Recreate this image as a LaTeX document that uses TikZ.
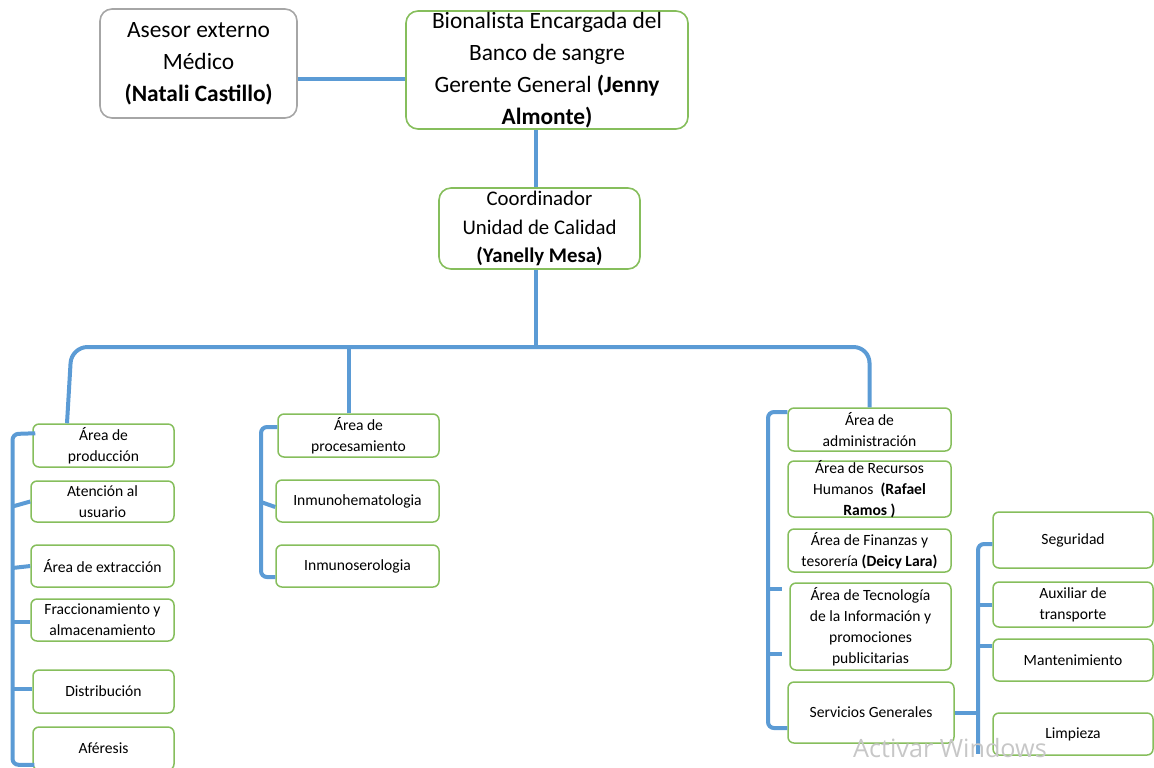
\documentclass[tikz,border=0pt]{standalone}
\usepackage{fontspec}
\setmainfont{Carlito}
\newfontfamily\wmfont{Open Sans}
\usetikzlibrary{calc}

\definecolor{busblue}{HTML}{5B9BD5}
\definecolor{boxgreen}{HTML}{86BE5C}
\definecolor{boxgray}{HTML}{A6A6A6}

\tikzset{
  bus/.style={draw=busblue, line width=2pt},
  bigbox/.style={draw=boxgreen, line width=0.8pt, rounded corners=6pt, fill=white,
    inner xsep=0pt, inner ysep=-4pt, align=center, font=\fontsize{11.7}{16}\selectfont},
  smallbox/.style={draw=boxgreen, line width=0.75pt, rounded corners=3pt, fill=white,
    inner xsep=0pt, inner ysep=-4pt, align=center, font=\fontsize{7.8}{10.5}\selectfont},
  wmark/.style={text=black!22, font=\wmfont\fontsize{12.6}{14}\selectfont, inner sep=0pt}
}

\begin{document}
\begin{tikzpicture}[x=0.5pt, y=-0.5pt]

  \useasboundingbox (0,0) rectangle (1154,767);

  % top boxes
  \node[bigbox, draw=boxgray, minimum width=98.5pt, minimum height=54.5pt] (asesor) at (198.5,63.5)
    {Asesor externo\\Médico\\\textbf{(Natali Castillo)}};
  \node[bigbox, minimum width=141pt, minimum height=59pt] (banco) at (547,70)
    {Bionalista Encargada del\\Banco de sangre\\Gerente General \textbf{(Jenny}\\\textbf{Almonte)}};
  \node[bigbox, font=\fontsize{10.4}{14.25}\selectfont, minimum width=100.5pt, minimum height=40.5pt] (coord) at (539.5,228.5)
    {Coordinador\\Unidad de Calidad\\\textbf{(Yanelly Mesa)}};

  % produccion
  \node[smallbox, minimum width=70.5pt, minimum height=21.5pt] (prod) at (103.5,445.5) {Área de\\producción};
  \node[smallbox, minimum width=71.5pt, minimum height=20.5pt] (atenc) at (102.5,501.5) {Atención al\\usuario};
  \node[smallbox, minimum width=71.5pt, minimum height=21pt] (extr) at (102.5,566) {Área de extracción};
  \node[smallbox, minimum width=71.5pt, minimum height=21pt] (fracc) at (102.5,620) {Fraccionamiento y\\almacenamiento};
  \node[smallbox, minimum width=70.5pt, minimum height=21.5pt] (distr) at (103.5,691.5) {Distribución};
  \node[smallbox, minimum width=70.5pt, minimum height=21.5pt] (afer) at (103.5,748.5) {Aféresis};

  % procesamiento
  \node[smallbox, minimum width=80.5pt, minimum height=21.5pt] (proc) at (358.5,435.5) {Área de\\procesamiento};
  \node[smallbox, minimum width=81.5pt, minimum height=21pt] (inmh) at (357.5,501) {Inmunohematologia};
  \node[smallbox, minimum width=81.5pt, minimum height=21pt] (inms) at (357.5,566) {Inmunoserologia};

  % administracion
  \node[smallbox, minimum width=81.5pt, minimum height=21.5pt] (admin) at (869.5,429.5) {Área de\\administración};
  \node[smallbox, minimum width=81.5pt, minimum height=28pt] (rrhh) at (869.5,489)
    {Área de Recursos\\Humanos~~\textbf{(Rafael}\\\textbf{Ramos )}};
  \node[smallbox, minimum width=81.5pt, minimum height=21.5pt] (finz) at (869.5,550.5)
    {Área de Finanzas y\\tesorería \textbf{(Deicy Lara)}};
  \node[smallbox, minimum width=80.5pt, minimum height=43.5pt] (tecn) at (870.5,626.5)
    {Área de Tecnología\\de la Información y\\promociones\\publicitarias};
  \node[smallbox, minimum width=83pt, minimum height=30.5pt] (servs) at (871,712.5) {Servicios Generales};

  % servicios generales
  \node[smallbox, minimum width=80pt, minimum height=28pt] (segur) at (1073,540) {Seguridad};
  \node[smallbox, minimum width=80pt, minimum height=22.5pt] (aux) at (1073,604.5) {Auxiliar de\\transporte};
  \node[smallbox, minimum width=80pt, minimum height=21pt] (mant) at (1073,660) {Mantenimiento};
  \node[smallbox, minimum width=80pt, minimum height=21pt] (limp) at (1073,734) {Limpieza};

  % top links
  \draw[bus] ($(asesor.east)+(0,15.5)$) -- ($(asesor.east -| banco.west)+(0,15.5)$);
  \draw[bus] ($(coord.north)+(-3.5,0)$) -- ($(coord.north |- banco.south)+(-3.5,0)$);

  % main bus
  \coordinate (hub) at (536,347);
  \draw[bus] ($(coord.south)+(-3.5,0)$) -- (hub);
  \draw[bus, rounded corners=8pt] ($(prod.north)+(-36.5,0)$) -- ($(prod.north |- hub)+(-32,0)$)
    -- (hub) -| (admin.north);
  \draw[bus] ($(proc.north)+(-9.5,0)$) -- ($(proc.north |- hub)+(-9.5,0)$);

  % left bracket
  \coordinate (spL) at (12.5,434);
  \draw[bus, rounded corners=3pt] ($(prod.north west)+(3,10)$) -- (spL) |- ($(afer.south west)+(2,-6)$);
  \draw[bus] ($(spL |- atenc.west)+(0,5)$) -- (atenc.west);
  \draw[bus] ($(spL |- extr.west)+(0,2)$) -- (extr.west);
  \draw[bus] ($(spL |- fracc.west)+(0,2)$) -- ($(fracc.west)+(0,2)$);
  \draw[bus] ($(spL |- distr.west)+(0,-3)$) -- ($(distr.west)+(0,-3)$);

  % middle bracket
  \coordinate (spM) at (261,427);
  \draw[bus, rounded corners=3pt] ($(proc.west)+(0,-8.5)$) -- (spM) |- ($(inms.west)+(0,11)$);
  \draw[bus] ($(spM |- inmh.west)+(0,1)$) -- ($(inmh.west)+(0,6)$);

  % right bracket
  \coordinate (spR) at (768,412);
  \draw[bus, rounded corners=3pt] ($(admin.west)+(0,-17.5)$) -- (spR) |- ($(servs.west)+(0,15.5)$);
  \draw[bus] ($(spR |- tecn.west)+(0,-37.5)$) -- ($(tecn.west)+(-7,-37.5)$);
  \draw[bus] ($(spR |- tecn.west)+(0,27.5)$) -- ($(tecn.west)+(-7,27.5)$);

  % servicios bracket
  \coordinate (spS) at (978,544);
  \draw[bus, rounded corners=3pt] ($(segur.west)+(0,4)$) -- (spS) -- ($(spS |- limp.south)+(0,-2)$);
  \draw[bus] (servs.east) -- (servs.east -| spS);
  \draw[bus] (aux.west) -- (aux.west -| spS);
  \draw[bus] ($(mant.west)+(0,-14)$) -- ($(mant.west -| spS)+(0,-14)$);

  % watermark
  \node[wmark] (activar) at (950,748) {Activar Windows};

\end{tikzpicture}
\end{document}
